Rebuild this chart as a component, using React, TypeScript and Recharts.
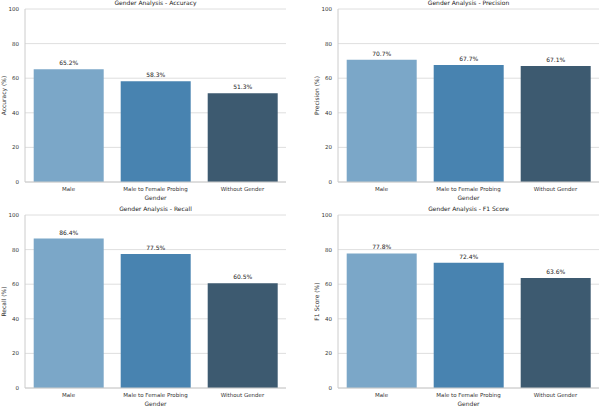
import React from 'react'
import { BarChart, Bar, XAxis, YAxis, CartesianGrid, Cell, LabelList } from 'recharts'

const genders = ['Male', 'Male to Female Probing', 'Without Gender']
const accuracy = [65.2, 58.3, 51.3]
const precision = [70.7, 67.7, 67.1]
const recall = [86.4, 77.5, 60.5]
const f1Score = [77.8, 72.4, 63.6]
const yTicks = [0, 20, 40, 60, 80, 100]
const barColors = ['#7ba7c8', '#4883b0', '#3d5a70']

const FONT = '"DejaVu Sans", sans-serif'

interface PanelProps {
  title: string
  yLabel: string
  values: number[]
  left: number
  top: number
  axisWidth: number
  marginRight: number
  marginTop: number
  yLabelOffset: number
}

function Panel({ title, yLabel, values, left, top, axisWidth, marginRight, marginTop, yLabelOffset }: PanelProps) {
  const data = genders.map((g, i) => ({ gender: g, value: values[i] }))
  const plotH = 173
  const xAxisH = 22
  const width = 300
  const height = marginTop + plotH + xAxisH
  const plotW = width - axisWidth - marginRight

  return (
    <div style={{ position: 'absolute', left, top, width, height }}>
      <BarChart
        width={width}
        height={height}
        data={data}
        margin={{ top: marginTop, right: marginRight, bottom: 0, left: 0 }}
        barCategoryGap="10%"
        style={{ fontFamily: FONT }}
      >
        <CartesianGrid vertical={false} stroke="#d6d6d6" strokeWidth={0.8} />
        <XAxis
          dataKey="gender"
          height={xAxisH}
          tickLine={false}
          tickSize={0}
          tickMargin={5}
          axisLine={{ stroke: '#cccccc' }}
          tick={{ fontSize: 5.5, fill: '#333' }}
          interval={0}
          label={{ value: 'Gender', position: 'insideBottom', offset: 4, fontSize: 6, fill: '#333' }}
        />
        <YAxis
          width={axisWidth}
          domain={[0, 100]}
          ticks={yTicks}
          tickLine={false}
          tickSize={0}
          tickMargin={6}
          axisLine={{ stroke: '#cccccc' }}
          tick={{ fontSize: 5.5, fill: '#333' }}
          label={{
            value: yLabel,
            angle: -90,
            position: 'insideLeft',
            offset: yLabelOffset,
            fontSize: 6,
            fill: '#333',
            style: { textAnchor: 'middle' },
          }}
        />
        <Bar dataKey="value" isAnimationActive={false}>
          {data.map((d, i) => (
            <Cell key={d.gender} fill={barColors[i]} />
          ))}
          <LabelList
            dataKey="value"
            position="top"
            offset={4}
            formatter={(v: number) => `${v.toFixed(1)}%`}
            style={{ fontSize: 6, fill: '#222' }}
          />
        </Bar>
      </BarChart>
      <div
        style={{
          position: 'absolute',
          left: axisWidth,
          width: plotW,
          top: marginTop - 9,
          fontSize: 6,
          lineHeight: '6px',
          textAlign: 'center',
          fontFamily: FONT,
          color: '#222',
          whiteSpace: 'nowrap',
        }}
      >
        {title}
      </div>
    </div>
  )
}

export default function App() {
  return (
    <div
      style={{
        position: 'absolute',
        left: 0,
        top: 0,
        width: 600,
        height: 406,
        overflow: 'hidden',
        background: '#fff',
      }}
    >
      <Panel title="Gender Analysis - Accuracy" yLabel="Accuracy (%)" values={accuracy}
        left={0} top={0} axisWidth={25} marginRight={14} marginTop={9} yLabelOffset={4} />
      <Panel title="Gender Analysis - Precision" yLabel="Precision (%)" values={precision}
        left={300} top={0} axisWidth={38} marginRight={1} marginTop={9} yLabelOffset={17} />
      <Panel title="Gender Analysis - Recall" yLabel="Recall (%)" values={recall}
        left={0} top={203} axisWidth={25} marginRight={14} marginTop={12} yLabelOffset={4} />
      <Panel title="Gender Analysis - F1 Score" yLabel="F1 Score (%)" values={f1Score}
        left={300} top={203} axisWidth={38} marginRight={1} marginTop={12} yLabelOffset={17} />
    </div>
  )
}
